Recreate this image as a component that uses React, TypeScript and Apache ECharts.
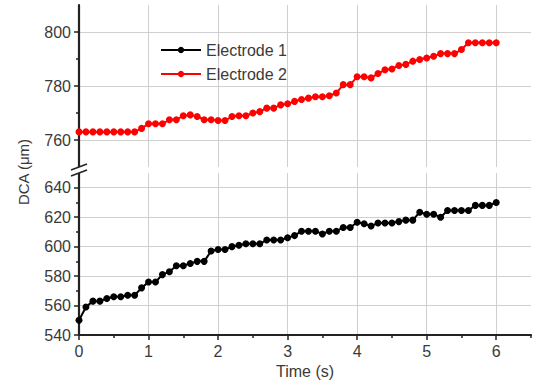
import React, { useEffect, useRef } from "react";
import * as echarts from "echarts";

const times = [0, 0.1, 0.2, 0.3, 0.4, 0.5, 0.6, 0.7, 0.8, 0.9, 1.0, 1.1, 1.2, 1.3, 1.4, 1.5, 1.6, 1.7, 1.8, 1.9, 2.0, 2.1, 2.2, 2.3, 2.4, 2.5, 2.6, 2.7, 2.8, 2.9, 3.0, 3.1, 3.2, 3.3, 3.4, 3.5, 3.6, 3.7, 3.8, 3.9, 4.0, 4.1, 4.2, 4.3, 4.4, 4.5, 4.6, 4.7, 4.8, 4.9, 5.0, 5.1, 5.2, 5.3, 5.4, 5.5, 5.6, 5.7, 5.8, 5.9, 6.0];

const electrode1 = [550, 559, 563, 563, 564.8, 566, 566, 567, 567, 572, 576, 576, 581, 583, 587, 587, 588.6, 590, 590, 597, 598, 598, 600, 601, 602, 602, 602, 604.5, 604.5, 604.5, 606, 607.5, 610.5, 610.5, 610.5, 608.6, 610.5, 610.5, 613, 613, 616.6, 615.5, 614, 616, 616, 616, 617, 618, 618, 623.4, 622, 622, 620, 624.5, 624.5, 624.5, 624.5, 628, 628, 628, 630];

const electrode2 = [763, 763, 763, 763, 763, 763, 763, 763, 763, 764.3, 766, 766, 766, 767.5, 767.5, 769, 769.3, 768.7, 767.5, 767.5, 767.2, 767.2, 768.7, 769, 769, 770, 770.5, 771.8, 771.8, 773, 773.4, 774.3, 775, 775.5, 776, 776, 776.4, 777.4, 780.5, 780.5, 783.4, 783.4, 783, 784.6, 786, 786.3, 787.6, 788, 789.2, 789.8, 790.4, 791, 792, 792, 792, 793.5, 796, 796, 796, 796, 796];

const xMajor = [0, 1, 2, 3, 4, 5, 6];
const xMinor = [0.5, 1.5, 2.5, 3.5, 4.5, 5.5, 6.5];
const upperMajor = [760, 780, 800];
const upperMinor = [770, 790];
const lowerMajor = [540, 560, 580, 600, 620, 640];
const lowerMinor = [550, 570, 590, 610, 630];

const seriesNames = ["Electrode 1", "Electrode 2"];

const FONT = "'Liberation Sans', Arial, sans-serif";
const AXIS_COLOR = "#222";
const TEXT_COLOR = "#3a3a3a";
const GRID_COLOR = "#cfcfcf";

export default function App() {
  const ref = useRef<HTMLDivElement>(null);

  useEffect(() => {
    document.body.style.margin = "0";
    if (!ref.current) return;
    const chart = echarts.init(ref.current, undefined, { renderer: "svg" });

    const line = { show: true, lineStyle: { color: AXIS_COLOR, width: 2.2 } };

    const option: any = {
      animation: false,
      backgroundColor: "#fff",
      textStyle: { fontFamily: FONT },
      grid: [
        { left: 79, right: 5, top: 5, height: 162 },
        { left: 79, right: 5, top: 173, bottom: 50 },
      ],
      legend: {
        left: 155,
        top: 37,
        orient: "vertical",
        itemWidth: 40,
        itemHeight: 8,
        itemGap: 8,
        data: seriesNames,
        textStyle: { fontFamily: FONT, fontSize: 16, color: TEXT_COLOR, lineHeight: 16 },
      },
      xAxis: [
        {
          type: "value", gridIndex: 0, min: 0, max: 6.5,
          axisLine: { show: false },
          axisTick: { show: false, customValues: [1, 2, 3, 4, 5, 6] },
          axisLabel: { show: false },
          splitLine: { show: true, lineStyle: { color: GRID_COLOR, width: 1 } },
        },
        {
          type: "value", gridIndex: 1, min: 0, max: 6.5, position: "bottom",
          axisLine: line,
          axisTick: { show: true, customValues: xMajor, length: 5, lineStyle: { color: AXIS_COLOR, width: 1.5 } },
          axisLabel: { customValues: xMajor, fontSize: 16, color: TEXT_COLOR, margin: 8, fontFamily: FONT },
          splitLine: { show: true, lineStyle: { color: GRID_COLOR, width: 1 } },
          name: "Time (s)",
          nameLocation: "middle",
          nameGap: 28,
          nameTextStyle: { fontSize: 16, color: TEXT_COLOR, fontFamily: FONT },
        },
        {
          type: "value", gridIndex: 1, min: 0, max: 6.5, position: "bottom",
          axisLine: { show: false },
          axisTick: { show: true, customValues: xMinor, length: 3, lineStyle: { color: AXIS_COLOR, width: 1.5 } },
          axisLabel: { show: false },
          splitLine: { show: false },
        },
      ],
      yAxis: [
        {
          type: "value", gridIndex: 0, min: 750, max: 810, position: "left",
          axisLine: line,
          axisTick: { show: true, customValues: upperMajor, length: 5, lineStyle: { color: AXIS_COLOR, width: 1.5 } },
          axisLabel: { customValues: upperMajor, fontSize: 16, color: TEXT_COLOR, margin: 8, fontFamily: FONT },
          splitLine: { show: true, lineStyle: { color: GRID_COLOR, width: 1 } },
        },
        {
          type: "value", gridIndex: 0, min: 750, max: 810, position: "left",
          axisLine: { show: false },
          axisTick: { show: true, customValues: upperMinor, length: 3, lineStyle: { color: AXIS_COLOR, width: 1.5 } },
          axisLabel: { show: false },
          splitLine: { show: false },
        },
        {
          type: "value", gridIndex: 1, min: 540, max: 650, position: "left",
          axisLine: line,
          axisTick: { show: true, customValues: lowerMajor, length: 5, lineStyle: { color: AXIS_COLOR, width: 1.5 } },
          axisLabel: { customValues: lowerMajor, fontSize: 16, color: TEXT_COLOR, margin: 8, fontFamily: FONT },
          splitLine: { show: true, lineStyle: { color: GRID_COLOR, width: 1 } },
        },
        {
          type: "value", gridIndex: 1, min: 540, max: 650, position: "left",
          axisLine: { show: false },
          axisTick: { show: true, customValues: lowerMinor, length: 3, lineStyle: { color: AXIS_COLOR, width: 1.5 } },
          axisLabel: { show: false },
          splitLine: { show: false },
        },
      ],
      series: [
        {
          name: seriesNames[0],
          type: "line",
          xAxisIndex: 1,
          yAxisIndex: 2,
          data: times.map((t, i) => [t, electrode1[i]]),
          symbol: "circle",
          symbolSize: 7,
          itemStyle: { color: "#000" },
          lineStyle: { color: "#000", width: 2 },
        },
        {
          name: seriesNames[1],
          type: "line",
          xAxisIndex: 0,
          yAxisIndex: 0,
          data: times.map((t, i) => [t, electrode2[i]]),
          symbol: "circle",
          symbolSize: 7,
          itemStyle: { color: "#ff0000" },
          lineStyle: { color: "#ff0000", width: 2 },
        },
      ],
      graphic: [
        {
          type: "polygon",
          z: 100,
          shape: { points: [[71, 170], [87, 164], [87, 170], [71, 176]] },
          style: { fill: "#fff" },
        },
        {
          type: "line",
          z: 101,
          shape: { x1: 71, y1: 170, x2: 87, y2: 164 },
          style: { stroke: AXIS_COLOR, lineWidth: 1.5 },
        },
        {
          type: "line",
          z: 101,
          shape: { x1: 71, y1: 176, x2: 87, y2: 170 },
          style: { stroke: AXIS_COLOR, lineWidth: 1.5 },
        },
        {
          type: "text",
          x: 23,
          y: 172,
          rotation: Math.PI / 2,
          style: {
            text: "DCA (μm)",
            fontSize: 15,
            fontFamily: FONT,
            fill: TEXT_COLOR,
            align: "center",
            verticalAlign: "middle",
          },
        },
      ],
    };

    chart.setOption(option);
    return () => chart.dispose();
  }, []);

  return <div ref={ref} style={{ width: 536, height: 385 }} />;
}
